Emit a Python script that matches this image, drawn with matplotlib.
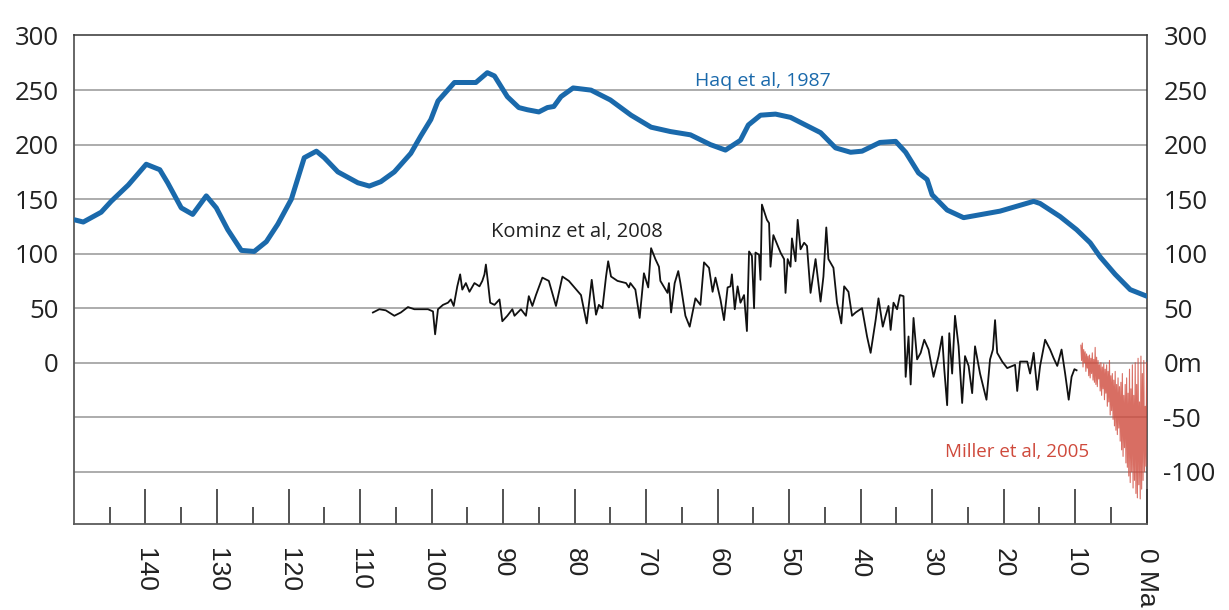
import matplotlib
matplotlib.use("Agg")
import matplotlib.pyplot as plt


# -----------------------------
# Data (ages in Ma, sea level in m)
# -----------------------------

haq_age = [149.9, 148.7, 146.2, 144.8, 142.4, 139.9, 138.0, 136.9, 135.0, 133.4,
           131.5, 130.1, 128.5, 126.6, 124.8, 123.1, 121.5, 119.6, 117.8, 116.1,
           115.0, 113.1, 110.3, 108.7, 107.1, 105.2, 102.9, 101.5, 100.1, 99.1,
           96.8, 95.2, 93.8, 92.2, 91.2, 89.4, 87.8, 86.6, 85.0, 83.8,
           82.9, 81.9, 80.2, 77.7, 75.0, 72.1, 69.3, 66.6, 63.8, 61.0,
           58.9, 56.8, 55.7, 54.0, 51.9, 49.8, 47.7, 45.6, 43.5, 41.4,
           39.8, 37.3, 35.1, 33.7, 31.9, 30.7, 30.0, 27.9, 25.6, 20.5,
           15.8, 14.9, 12.1, 9.8, 7.9, 6.5, 4.4, 2.3, 0.0]
haq_level = [131, 129, 138, 148, 163, 182, 177, 165, 142, 136,
             153, 142, 122, 103, 102, 111, 127, 150, 188, 194,
             188, 175, 165, 162, 166, 175, 192, 208, 223, 240,
             257, 257, 257, 266, 263, 244, 234, 232, 230, 234,
             235, 244, 252, 250, 241, 227, 216, 212, 209, 200,
             195, 204, 218, 227, 228, 225, 218, 211, 197, 193,
             194, 202, 203, 193, 174, 168, 154, 140, 133, 139,
             148, 146, 134, 122, 110, 97, 81, 67, 61]

kominz_age = [108.2, 107.3, 106.4, 105.2, 104.3, 103.3, 102.4, 100.5, 99.8, 99.5,
              99.1, 98.4, 97.7, 97.3, 96.9, 96.4, 96.0, 95.7, 95.2, 94.7,
              94.0, 93.3, 92.9, 92.6, 92.4, 92.1, 91.8, 91.2, 90.5, 90.1,
              89.4, 88.7, 88.4, 87.5, 86.8, 86.4, 85.9, 85.4, 84.5, 83.6,
              82.6, 81.7, 80.8, 79.1, 78.3, 77.6, 77.0, 76.6, 76.1, 75.6,
              75.3, 74.9, 74.0, 72.8, 72.4, 72.2, 71.5, 70.9, 70.3, 69.7,
              69.3, 68.7, 68.2, 68.0, 67.0, 66.8, 66.5, 66.0, 65.5, 65.2,
              64.5, 63.9, 63.1, 62.4, 61.9, 61.2, 60.7, 60.3, 59.6, 59.1,
              58.6, 58.2, 58.0, 57.6, 57.2, 56.8, 56.3, 55.9, 55.6, 55.2,
              54.9, 54.7, 54.2, 54.0, 53.8, 53.1, 52.8, 52.6, 52.2, 51.2,
              50.7, 50.5, 50.2, 49.8, 49.6, 49.1, 48.8, 48.4, 47.9, 47.5,
              47.0, 46.3, 45.6, 45.2, 44.8, 44.5, 43.8, 43.3, 42.7, 42.3,
              41.7, 41.2, 40.7, 39.8, 39.1, 38.6, 37.9, 37.5, 36.9, 36.5,
              36.1, 35.8, 35.4, 34.9, 34.5, 34.0, 33.7, 33.3, 33.0, 32.6,
              32.1, 31.6, 31.1, 30.5, 29.8, 29.1, 28.6, 28.3, 27.9, 27.6,
              27.2, 26.8, 26.3, 25.8, 25.4, 24.9, 24.4, 24.0, 23.3, 22.4,
              21.9, 21.5, 21.2, 20.9, 20.2, 19.5, 18.4, 18.1, 17.7, 16.7,
              16.3, 15.8, 15.3, 14.9, 14.2, 13.5, 13.0, 12.5, 11.9, 11.4,
              10.9, 10.5, 10.1, 9.8]
kominz_level = [46, 49, 48, 43, 46, 51, 49, 49, 47, 26,
                49, 53, 55, 58, 52, 70, 81, 67, 73, 65,
                73, 70, 75, 81, 90, 73, 55, 53, 58, 38,
                43, 49, 43, 49, 43, 61, 52, 62, 78, 75,
                52, 79, 75, 62, 36, 76, 44, 53, 50, 79,
                93, 79, 75, 73, 69, 73, 67, 41, 82, 69,
                105, 95, 88, 75, 64, 73, 46, 73, 84, 73,
                43, 33, 59, 53, 92, 87, 65, 78, 58, 39,
                69, 70, 81, 49, 70, 55, 62, 29, 102, 98,
                50, 101, 99, 76, 145, 131, 128, 88, 117, 101,
                95, 64, 95, 88, 114, 93, 131, 104, 110, 107,
                64, 95, 56, 79, 124, 95, 87, 55, 36, 70,
                65, 43, 46, 50, 24, 9, 39, 59, 33, 43,
                52, 30, 55, 49, 62, 61, -13, 24, -20, 41,
                3, 9, 21, 12, -13, 6, 24, -6, -39, 27,
                -10, 43, 15, -37, 6, -3, -28, 15, -10, -34,
                3, 12, 39, 9, 1, -5, -2, -26, 1, 1,
                -10, 9, -25, -3, 21, 12, 4, -3, 12, -10,
                -34, -13, -6, -7]

miller_age = [9.2, 9.1, 9.0, 8.9, 8.8, 8.7, 8.6, 8.5, 8.4, 8.3,
              8.2, 8.1, 8.0, 7.9, 7.8, 7.7, 7.6, 7.5, 7.4, 7.3,
              7.2, 7.1, 7.0, 6.9, 6.8, 6.7, 6.6, 6.5, 6.4, 6.3,
              6.2, 6.1, 6.0, 5.9, 5.8, 5.7, 5.6, 5.5, 5.4, 5.3,
              5.2, 5.1, 5.0, 4.9, 4.8, 4.7, 4.6, 4.5, 4.4, 4.3,
              4.2, 4.1, 4.0, 3.9, 3.8, 3.7, 3.6, 3.5, 3.4, 3.3,
              3.2, 3.1, 3.0, 2.9, 2.8, 2.7, 2.6, 2.5, 2.4, 2.3,
              2.2, 2.1, 2.0, 1.9, 1.8, 1.7, 1.6, 1.5, 1.4, 1.3,
              1.2, 1.1, 1.0, 0.9, 0.8, 0.7, 0.6, 0.5, 0.4, 0.3,
              0.2, 0.1, 0.0]
miller_level = [16, 2, 18, -4, 12, 0, 10, -8, 8, -5,
                6, -12, 7, -14, 4, -10, 9, -16, 3, -18,
                14, -20, 5, -22, 2, -15, -2, -26, 0, -30,
                -4, -24, -1, -34, -6, -28, -2, -40, -8, -36,
                2, -48, -12, -44, -10, -52, -16, -58, -8, -62,
                -20, -66, -14, -60, -22, -72, -18, -80, -10, -86,
                -30, -78, -20, -92, -14, -96, -28, -104, -6, -110,
                -24, -100, -2, -115, -30, -108, 0, -120, -20, -124,
                4, -112, -36, -125, 6, -116, -10, -108, 2, -100,
                -40, -95, 0]

x_major = [140, 130, 120, 110, 100, 90, 80, 70, 60, 50, 40, 30, 20, 10, 0]
x_labels = ["140", "130", "120", "110", "100", "90", "80", "70", "60",
            "50", "40", "30", "20", "10", "0 Ma"]
x_minor = [145, 135, 125, 115, 105, 95, 85, 75, 65, 55, 45, 35, 25, 15, 5]

y_ticks = [300, 250, 200, 150, 100, 50, 0, -50, -100]
y_left_labels = ["300", "250", "200", "150", "100", "50", "0", "", ""]
y_right_labels = ["300", "250", "200", "150", "100", "50", "0m", "-50", "-100"]


# -----------------------------
# Figure
# -----------------------------

fig = plt.figure(figsize=(12.29, 6.10), dpi=100)
ax = fig.add_axes([0.0602, 0.141, 0.8728, 0.8015])

blue = "#1a69ab"
red = "#cf4a3c"

ax.plot(miller_age, miller_level, color=red, lw=0.8, alpha=0.8, zorder=3)
ax.plot(kominz_age, kominz_level, color="#111111", lw=1.3, zorder=4)
ax.plot(haq_age, haq_level, color=blue, lw=3.6, solid_capstyle="round",
        solid_joinstyle="round", zorder=5)

ax.set_xlim(150, 0)
ax.set_ylim(-148, 300.5)

# grid lines
for y in y_ticks[1:]:
    ax.axhline(y, color="#a6a6a6", lw=1.3, zorder=1)

# spines
for side in ["left", "bottom"]:
    ax.spines[side].set_color("#5a5a5a")
    ax.spines[side].set_linewidth(1.3)
for side in ["top", "right"]:
    ax.spines[side].set_color("#333333")
    ax.spines[side].set_linewidth(1.1)

# x ticks
ax.set_xticks(x_major)
ax.set_xticks(x_minor, minor=True)
ax.set_xticklabels(x_labels, rotation=-90, fontfamily="Liberation Sans",
                   fontsize=19, color="#222222", va="top", ha="center")
ax.tick_params(axis="x", which="major", direction="in", length=25, width=1.3,
               color="#444444", pad=17)
ax.tick_params(axis="x", which="minor", direction="in", length=12, width=1.3,
               color="#444444")

# left y ticks
ax.set_yticks(y_ticks)
ax.set_yticklabels(y_left_labels, fontfamily="Open Sans", fontsize=18.5,
                   color="#222222")
ax.tick_params(axis="y", length=0, pad=11)

# right y ticks
ax2 = ax.twinx()
ax2.set_ylim(ax.get_ylim())
ax2.set_yticks(y_ticks)
ax2.set_yticklabels(y_right_labels, fontfamily="Open Sans", fontsize=18.5,
                    color="#222222")
ax2.tick_params(axis="y", length=0, pad=12)
for s in ax2.spines.values():
    s.set_visible(False)

# labels on the curves
ax.text(63.1, 258, "Haq et al, 1987", color=blue, fontsize=14,
        fontfamily="Open Sans", va="center", ha="left")
ax.text(91.7, 120, "Kominz et al, 2008", color="#222222", fontsize=14.5,
        fontfamily="Open Sans", va="center", ha="left")
ax.text(28.2, -82, "Miller et al, 2005", color=red, fontsize=13.5,
        fontfamily="Open Sans", va="center", ha="left")

fig.savefig("out.png", dpi=100, facecolor="white")
